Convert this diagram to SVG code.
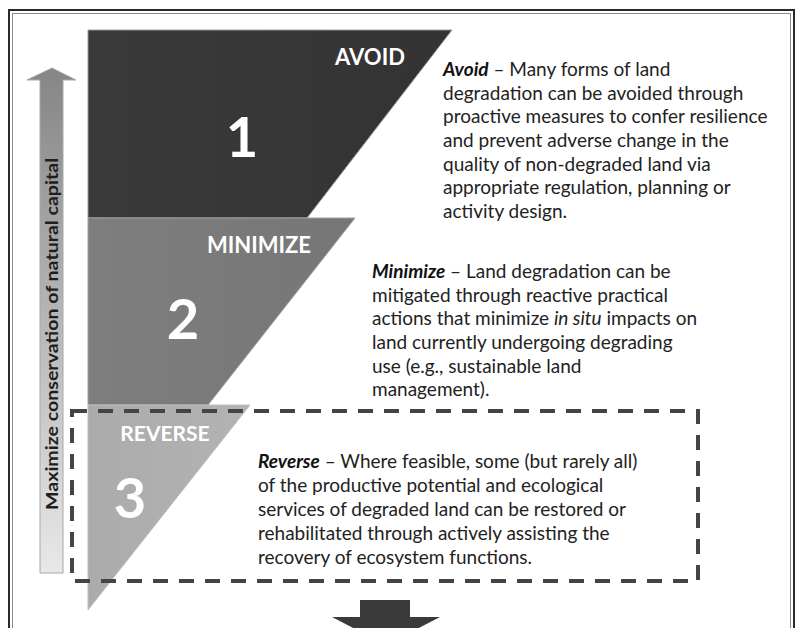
<svg xmlns="http://www.w3.org/2000/svg" width="800" height="628" viewBox="0 0 800 628">
<defs>
<linearGradient id="gArrow" x1="0" y1="0" x2="0" y2="1">
<stop offset="0" stop-color="#858585"/>
<stop offset="1" stop-color="#e8e8e8"/>
</linearGradient>
<linearGradient id="g1" x1="0" y1="0" x2="1" y2="0">
<stop offset="0" stop-color="#3a3a3a"/>
<stop offset="1" stop-color="#333333"/>
</linearGradient>
<linearGradient id="g2" x1="0" y1="0" x2="1" y2="0">
<stop offset="0" stop-color="#7e7e7e"/>
<stop offset="1" stop-color="#767676"/>
</linearGradient>
<linearGradient id="g3" x1="0" y1="0" x2="1" y2="0">
<stop offset="0" stop-color="#ababab"/>
<stop offset="1" stop-color="#b3b3b3"/>
</linearGradient>
</defs>
<style>
.lbl{font-family:Lato,"Liberation Sans",sans-serif;fill:#ffffff;font-weight:bold;}
.num{font-family:Lato,"Liberation Sans",sans-serif;fill:#ffffff;font-weight:bold;font-size:56px;text-anchor:middle;}
.body{font-family:Lato,"Liberation Sans",sans-serif;font-size:19px;fill:#222222;}
.ttl{font-weight:bold;font-style:italic;fill:#111111;}
.dash{fill:none;stroke:#444444;stroke-width:4;stroke-dasharray:15 11;}
</style>
<rect x="0" y="0" width="800" height="628" fill="#ffffff"/>
<g id="frame">
<rect x="9" y="10" width="785" height="640" fill="none" stroke="#2a2a2a" stroke-width="2"/>
<rect x="12.5" y="13.5" width="778" height="640" fill="none" stroke="#8a8a8a" stroke-width="1"/>
</g>
<g id="axis-arrow">
<path d="M40,80 L27,80 L52,68 L76,80 L63,80 L63,573 L40,573 Z" fill="url(#gArrow)" stroke="#a8a8a8" stroke-width="1"/>
<text transform="translate(58,334) rotate(-90)" text-anchor="middle" font-family="Lato,'Liberation Sans',sans-serif" font-weight="bold" font-size="17.5" fill="#1e1e1e" textLength="352" lengthAdjust="spacingAndGlyphs">Maximize conservation of natural capital</text>
</g>
<g id="avoid">
<polygon points="88,30 452,30 307,218 88,218" fill="url(#g1)" stroke="#9a9a9a" stroke-width="1"/>
<text class="lbl" x="370" y="65" font-size="22" text-anchor="middle">AVOID</text>
<text class="num" x="242" y="157">1</text>
</g>
<g id="minimize">
<polygon points="88,218 355,218 208,405 88,405" fill="url(#g2)" stroke="#a0a0a0" stroke-width="1"/>
<text class="lbl" x="259" y="253" font-size="22" text-anchor="middle">MINIMIZE</text>
<text class="num" x="183" y="339">2</text>
</g>
<g id="reverse">
<polygon points="88,405 250,405 88,610" fill="url(#g3)" stroke="#c0c0c0" stroke-width="1"/>
<text class="lbl" x="165" y="441" font-size="21" text-anchor="middle">REVERSE</text>
<text class="num" x="130" y="518">3</text>
</g>
<g id="avoid-text" class="body">
<text x="443" y="76"><tspan class="ttl">Avoid</tspan> – Many forms of land</text>
<text x="443" y="100">degradation can be avoided through</text>
<text x="443" y="123">proactive measures to confer resilience</text>
<text x="443" y="147">and prevent adverse change in the</text>
<text x="443" y="171">quality of non-degraded land via</text>
<text x="443" y="194">appropriate regulation, planning or</text>
<text x="443" y="218">activity design.</text>
</g>
<g id="minimize-text" class="body">
<text x="372" y="278"><tspan class="ttl">Minimize</tspan> – Land degradation can be</text>
<text x="372" y="302">mitigated through reactive practical</text>
<text x="372" y="325">actions that minimize <tspan font-style="italic">in situ</tspan> impacts on</text>
<text x="372" y="349">land currently undergoing degrading</text>
<text x="372" y="373">use (e.g., sustainable land</text>
<text x="372" y="396">management).</text>
</g>
<g id="reverse-box">
<rect class="dash" x="72" y="411" width="626" height="170"/>
</g>
<g id="reverse-text" class="body">
<text x="258" y="468"><tspan class="ttl">Reverse</tspan> – Where feasible, some (but rarely all)</text>
<text x="258" y="492">of the productive potential and ecological</text>
<text x="258" y="516">services of degraded land can be restored or</text>
<text x="258" y="540">rehabilitated through actively assisting the</text>
<text x="258" y="564">recovery of ecosystem functions.</text>
</g>
<g id="down-arrow">
<path d="M360,600 L410,600 L410,617 L440,617 L386,645 L332,617 L360,617 Z" fill="#3a3a3a"/>
</g>
</svg>
